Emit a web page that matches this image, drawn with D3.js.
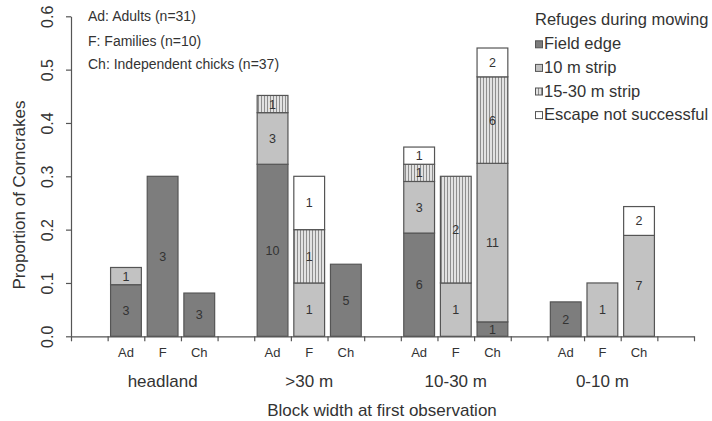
<!DOCTYPE html>
<html><head><meta charset="utf-8">
<script src="https://cdn.jsdelivr.net/npm/d3@7"></script>
<style>
html,body{margin:0;padding:0;background:#fff;}
svg{display:block;font-family:"Liberation Sans",Arial,sans-serif;}
</style></head>
<body><svg id="chart" width="712" height="421"></svg>
<script>
// ---- data ----
const groups = ["headland", ">30 m", "10-30 m", "0-10 m"];
const classes = ["Ad", "F", "Ch"];
const classN = [31, 10, 37];            // sample sizes Ad, F, Ch
const refuges = ["Field edge", "10 m strip", "15-30 m strip", "Escape not successful"];
// counts per bar, order: headland Ad,F,Ch | >30 m Ad,F,Ch | 10-30 m Ad,F,Ch | 0-10 m Ad,F,Ch
const fieldEdgeCounts = [3, 3, 3, 10, 0, 5, 6, 0, 1, 2, 0, 0];
const strip10Counts   = [1, 0, 0, 3, 1, 0, 3, 1, 11, 0, 1, 7];
const strip1530Counts = [0, 0, 0, 1, 1, 0, 1, 2, 6, 0, 0, 0];
const escapeCounts    = [0, 0, 0, 0, 1, 0, 1, 0, 2, 0, 0, 2];
const yTicks = [0, 0.1, 0.2, 0.3, 0.4, 0.5, 0.6];
const annotations = ["Ad: Adults (n=31)", "F: Families (n=10)", "Ch: Independent chicks (n=37)"];

// ---- setup ----
const svg = d3.select("#chart");
const textCol = "#333";
const axisCol = "#555";
const fills = ["#7d7d7d", "#c2c2c2", "url(#hatch)", "#ffffff"];

const defs = svg.append("defs");
const pat = defs.append("pattern").attr("id", "hatch").attr("patternUnits", "userSpaceOnUse")
  .attr("width", 3).attr("height", 4);
pat.append("rect").attr("width", 3).attr("height", 4).attr("fill", "#e2e2e2");
pat.append("rect").attr("x", 0).attr("width", 1).attr("height", 4).attr("fill", "#8e8e8e");

// slots: gap, (Ad,F,Ch), gap, ...
const slots = ["gap0"];
groups.forEach((g, gi) => { classes.forEach(c => slots.push(g + "|" + c)); slots.push("gap" + (gi + 1)); });

const x0 = 71, x1 = 694, yBottom = 336.3, yTop = 16.3;
const x = d3.scaleBand().domain(slots).range([x0, x1]).paddingInner(0.16).paddingOuter(0.08);
const xEdge = d3.scaleLinear().domain([0, slots.length]).range([x0, x1]);
const y = d3.scaleLinear().domain([0, 0.6]).range([yBottom, yTop]);

// ---- bars ----
const series = [fieldEdgeCounts, strip10Counts, strip1530Counts, escapeCounts];
const bars = [];
groups.forEach((g, gi) => classes.forEach((c, ci) => {
  const idx = gi * 3 + ci;
  let cum = 0;
  series.forEach((s, si) => {
    const cnt = s[idx];
    if (cnt > 0) {
      bars.push({ key: g + "|" + c, si, cnt, y0: cum / classN[ci], y1: (cum + cnt) / classN[ci] });
      cum += cnt;
    }
  });
}));

const barG = svg.append("g");
barG.selectAll("rect").data(bars).join("rect")
  .attr("x", d => x(d.key)).attr("width", x.bandwidth())
  .attr("y", d => y(d.y1)).attr("height", d => y(d.y0) - y(d.y1))
  .attr("fill", d => fills[d.si]).attr("stroke", "#555").attr("stroke-width", 1.2);
barG.selectAll("text").data(bars).join("text")
  .attr("x", d => x(d.key) + x.bandwidth() / 2)
  .attr("y", d => (y(d.y0) + y(d.y1)) / 2)
  .attr("dy", "0.36em").attr("text-anchor", "middle")
  .attr("font-size", 12.5).attr("fill", textCol).text(d => d.cnt);

// ---- axes ----
const xAxis = svg.append("g").attr("transform", `translate(0,${yBottom})`)
  .call(d3.axisBottom(xEdge).tickValues(d3.range(slots.length + 1)).tickFormat("").tickSize(5).tickSizeOuter(0));
xAxis.selectAll("path,line").attr("stroke", axisCol).attr("stroke-width", 1.2);

const yAxis = svg.append("g").attr("transform", `translate(${x0},0)`)
  .call(d3.axisLeft(y).tickValues(yTicks).tickFormat(d3.format(".1f")).tickSize(5).tickSizeOuter(0));
yAxis.selectAll("path,line").attr("stroke", axisCol).attr("stroke-width", 1.2);
yAxis.selectAll("text").attr("transform", "rotate(-90)").attr("x", 0).attr("y", -18).attr("dy", 0)
  .attr("text-anchor", "middle").attr("font-size", 16).attr("fill", textCol)
  .attr("font-family", "Liberation Sans, Arial, sans-serif");

// class labels
const classLabels = [];
groups.forEach(g => classes.forEach(c => classLabels.push({ key: g + "|" + c, c })));
svg.append("g").selectAll("text").data(classLabels).join("text")
  .attr("x", d => x(d.key) + x.bandwidth() / 2).attr("y", 356.7)
  .attr("text-anchor", "middle").attr("font-size", 13).attr("fill", textCol).text(d => d.c);

// group labels
svg.append("g").selectAll("text").data(groups).join("text")
  .attr("x", g => x(g + "|F") + x.bandwidth() / 2).attr("y", 386.7)
  .attr("text-anchor", "middle").attr("font-size", 17).attr("fill", textCol).text(g => g);

// axis titles
svg.append("text").attr("x", 382).attr("y", 416).attr("text-anchor", "middle")
  .attr("font-size", 17).attr("fill", textCol).text("Block width at first observation");
svg.append("text").attr("transform", "translate(25,195) rotate(-90)").attr("text-anchor", "middle")
  .attr("font-size", 17).attr("fill", textCol).text("Proportion of Corncrakes");

// annotations
svg.append("g").selectAll("text").data(annotations).join("text")
  .attr("x", 88).attr("y", (d, i) => [20.7, 45.7, 69][i])
  .attr("font-size", 14).attr("fill", textCol).text(d => d);

// legend
const leg = svg.append("g");
leg.append("text").attr("x", 535).attr("y", 25).attr("font-size", 16.5).attr("fill", textCol)
  .text("Refuges during mowing");
const li = leg.selectAll("g.item").data(refuges).join("g").attr("class", "item")
  .attr("transform", (d, i) => `translate(535,${49.3 + i * 23.6})`);
li.append("rect").attr("x", 0.5).attr("y", -8.5).attr("width", 7).attr("height", 7)
  .attr("fill", (d, i) => fills[i]).attr("stroke", "#555").attr("stroke-width", 1);
li.append("text").attr("x", 9).attr("y", 0).attr("font-size", 16.5).attr("fill", textCol).text(d => d);
</script>
</body></html>
